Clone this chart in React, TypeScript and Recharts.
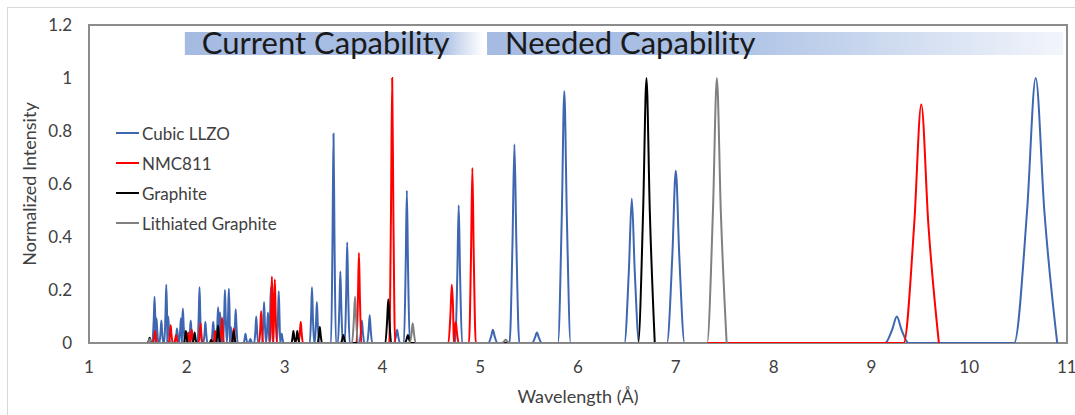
import React from "react";
import { LineChart, Line, XAxis, YAxis, ReferenceArea, Legend } from "recharts";

// [wavelength (Å), normalized intensity, peak half-width at base (Å)]
const llzoPeaks: [number, number, number][] = [
    [1.67, 0.175, 0.02], [1.69, 0.093, 0.02], [1.74, 0.085, 0.02], [1.79, 0.22, 0.02],
    [1.81, 0.1, 0.02], [1.9, 0.055, 0.02], [1.94, 0.093, 0.02], [1.96, 0.13, 0.02],
    [2.04, 0.085, 0.02], [2.13, 0.21, 0.02], [2.19, 0.08, 0.02], [2.27, 0.08, 0.02],
    [2.32, 0.135, 0.02], [2.34, 0.115, 0.02], [2.39, 0.2, 0.02], [2.43, 0.205, 0.02],
    [2.45, 0.06, 0.02], [2.5, 0.127, 0.02], [2.6, 0.035, 0.02], [2.65, 0.015, 0.02],
    [2.71, 0.1, 0.02], [2.79, 0.155, 0.02], [2.83, 0.115, 0.02], [2.86, 0.21, 0.02],
    [2.94, 0.195, 0.02], [2.97, 0.035, 0.02], [3.28, 0.21, 0.022], [3.33, 0.155, 0.022],
    [3.5, 0.79, 0.025], [3.57, 0.27, 0.025], [3.64, 0.38, 0.025], [3.79, 0.085, 0.025],
    [3.87, 0.105, 0.025], [4.15, 0.05, 0.03], [4.25, 0.575, 0.03], [4.78, 0.52, 0.035],
    [5.13, 0.05, 0.045], [5.35, 0.75, 0.05], [5.58, 0.04, 0.05], [5.86, 0.95, 0.065],
    [6.55, 0.545, 0.075], [7.0, 0.65, 0.09], [9.26, 0.1, 0.12], [10.68, 1.0, 0.22],
];

const nmcPeaks: [number, number, number][] = [
    [1.675, 0.045, 0.02], [1.835, 0.067, 0.02], [1.89, 0.03, 0.02], [2.015, 0.04, 0.02],
    [2.05, 0.05, 0.02], [2.14, 0.075, 0.02], [2.29, 0.045, 0.02], [2.36, 0.095, 0.02],
    [2.48, 0.055, 0.02], [2.76, 0.12, 0.02], [2.87, 0.25, 0.02], [2.9, 0.24, 0.02],
    [3.165, 0.08, 0.022], [3.76, 0.34, 0.025], [4.1, 1.0, 0.03], [4.71, 0.22, 0.035],
    [4.75, 0.08, 0.03], [4.92, 0.66, 0.035], [9.51, 0.9, 0.18],
];

const graphitePeaks: [number, number, number][] = [
    [1.62, 0.02, 0.02], [1.99, 0.045, 0.02], [2.08, 0.04, 0.02], [2.25, 0.012, 0.02],
    [2.32, 0.065, 0.02], [2.48, 0.045, 0.02], [3.09, 0.045, 0.02], [3.13, 0.045, 0.02],
    [3.36, 0.06, 0.022], [3.6, 0.03, 0.025], [4.06, 0.165, 0.03], [4.26, 0.03, 0.03],
    [6.7, 1.0, 0.085],
];

const lithiatedPeaks: [number, number, number][] = [
    [1.62, 0.015, 0.02], [3.72, 0.175, 0.03], [4.31, 0.075, 0.03], [5.26, 0.012, 0.04],
    [7.42, 1.0, 0.1],
];

const xTicks = [1, 2, 3, 4, 5, 6, 7, 8, 9, 10, 11];
const yTicks = [0, 0.2, 0.4, 0.6, 0.8, 1, 1.2];

const series = [
    { name: "Cubic LLZO", peaks: llzoPeaks, color: "#3f67b1" },
    { name: "NMC811", peaks: nmcPeaks, color: "#ff0000" },
    { name: "Graphite", peaks: graphitePeaks, color: "#000000" },
    { name: "Lithiated Graphite", peaks: lithiatedPeaks, color: "#808080" },
];

// half-max point sits at ~0.4 of the base half-width
const HALF_MAX_AT = 0.4;

// turn peak list into base / half-max / apex points for the line
function profile(peaks: [number, number, number][]) {
    const pts: { x: number; y: number }[] = [];
    const sorted = [...peaks].sort((a, b) => a[0] - b[0]);
    let prevX = -Infinity;
    sorted.forEach(([x, h, w]) => {
        const last = pts[pts.length - 1];
        if (last && last.x > x - w) {
            // overlapping neighbours: drop the shared bases, meet at a valley between them
            while (pts.length && pts[pts.length - 1].x > (prevX + x) / 2) pts.pop();
            pts.push({ x: (prevX + x) / 2, y: 0 });
            pts.push({ x: x - HALF_MAX_AT * w, y: h / 2 });
        } else {
            pts.push({ x: x - w, y: 0 });
            pts.push({ x: x - HALF_MAX_AT * w, y: h / 2 });
        }
        pts.push({ x, y: h });
        pts.push({ x: x + HALF_MAX_AT * w, y: h / 2 });
        pts.push({ x: x + w, y: 0 });
        prevX = x;
    });
    return pts;
}

const FONT = "Lato, 'Open Sans', sans-serif";

function LegendBox() {
    return (
        <div style={{ fontFamily: FONT, fontSize: 17, color: "#404040" }}>
            {series.map((s) => (
                <div key={s.name} style={{ display: "flex", alignItems: "center", height: 30 }}>
                    <span style={{ display: "inline-block", width: 23, height: 2, background: s.color, marginRight: 3 }} />
                    <span>{s.name}</span>
                </div>
            ))}
        </div>
    );
}

export default function App() {
    return (
        <div style={{ position: "absolute", left: 0, top: 0, width: 1075, height: 415, background: "#fff" }}>
            <div
                style={{
                    position: "absolute",
                    left: 7,
                    top: 7,
                    width: 1080,
                    height: 420,
                    borderLeft: "1px solid #d9d9d9",
                    borderTop: "1px solid #d9d9d9",
                }}
            />
            <LineChart width={1075} height={415} margin={{ top: 25, right: 8, bottom: 0, left: 0 }}>
                <defs>
                    <linearGradient id="curBand" x1="0" y1="0" x2="1" y2="0">
                        <stop offset="0" stopColor="#a5bbe2" />
                        <stop offset="0.86" stopColor="#a9bee3" />
                        <stop offset="1" stopColor="#ffffff" />
                    </linearGradient>
                    <linearGradient id="needBand" x1="0" y1="0" x2="1" y2="0">
                        <stop offset="0" stopColor="#a5bbe2" />
                        <stop offset="0.4" stopColor="#aac0e4" />
                        <stop offset="1" stopColor="#f2f5fb" />
                    </linearGradient>
                </defs>
                <XAxis
                    type="number"
                    dataKey="x"
                    domain={[1, 11]}
                    ticks={xTicks}
                    allowDataOverflow
                    axisLine={false}
                    tickLine={false}
                    tickSize={0}
                    tickMargin={18}
                    height={72}
                    tick={{ fontFamily: FONT, fontSize: 17, fill: "#404040" }}
                    label={{
                        value: "Wavelength (Å)",
                        position: "insideBottom",
                        offset: 12,
                        style: { fontFamily: FONT, fontSize: 18, fill: "#404040" },
                    }}
                />
                <YAxis
                    type="number"
                    domain={[0, 1.2]}
                    ticks={yTicks}
                    allowDataOverflow
                    axisLine={false}
                    tickLine={false}
                    tickSize={0}
                    tickMargin={17}
                    width={89}
                    tick={{ fontFamily: FONT, fontSize: 17, fill: "#404040" }}
                    label={{
                        value: "Normalized Intensity",
                        angle: -90,
                        position: "insideLeft",
                        offset: 30,
                        style: { textAnchor: "middle", fontFamily: FONT, fontSize: 18, fill: "#404040" },
                    }}
                />
                <ReferenceArea
                    x1={1.98}
                    x2={5.03}
                    y1={1.087}
                    y2={1.174}
                    fill="url(#curBand)"
                    fillOpacity={1}
                    stroke="none"
                    label={{
                        value: "Current Capability",
                        position: "insideLeft",
                        offset: 17,
                        style: { fontFamily: FONT, fontSize: 31, fill: "#1a1a1a" },
                    }}
                />
                <ReferenceArea
                    x1={5.07}
                    x2={10.96}
                    y1={1.087}
                    y2={1.174}
                    fill="url(#needBand)"
                    fillOpacity={1}
                    stroke="none"
                    label={{
                        value: "Needed Capability",
                        position: "insideLeft",
                        offset: 18,
                        style: { fontFamily: FONT, fontSize: 31, fill: "#1a1a1a" },
                    }}
                />
                <ReferenceArea
                    x1={1}
                    x2={11}
                    y1={0}
                    y2={1.2}
                    fill="none"
                    stroke="#8c8c8c"
                    strokeWidth={2}
                />
                {series.map((s) => (
                    <Line
                        key={s.name}
                        name={s.name}
                        data={profile(s.peaks)}
                        dataKey="y"
                        type="monotone"
                        stroke={s.color}
                        strokeWidth={2}
                        dot={false}
                        activeDot={false}
                        isAnimationActive={false}
                    />
                ))}
                <Legend
                    layout="vertical"
                    align="center"
                    verticalAlign="middle"
                    content={() => <LegendBox />}
                    wrapperStyle={{ left: 116, top: 118, width: 200 }}
                />
            </LineChart>
        </div>
    );
}
